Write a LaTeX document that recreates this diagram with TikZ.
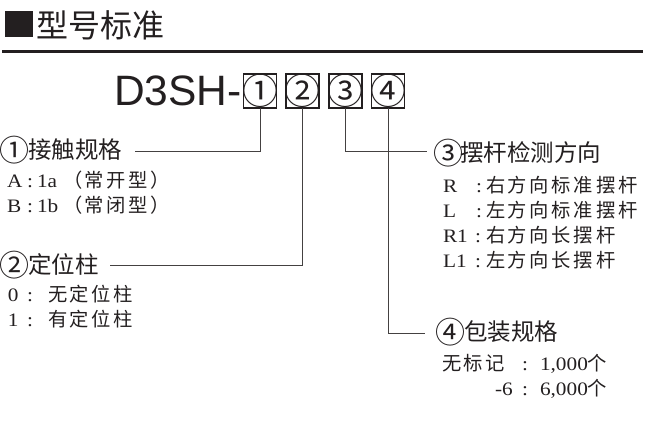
\documentclass[tikz,border=0pt]{standalone}
\usepackage{fontspec}
\setmainfont{Liberation Serif}
\newfontfamily\cjk{Noto Sans CJK SC}
\newfontfamily\bodycjk[LetterSpace=14]{Noto Sans CJK SC}
\newfontfamily\latw[FakeStretch=1.12]{Liberation Serif}
\newfontfamily\arialf{Liberation Sans}
\definecolor{ink}{HTML}{231F20}
\begin{document}
\begin{tikzpicture}[x=1pt,y=-1pt,
  every node/.style={inner sep=0pt, outer sep=0pt, text=ink},
  lat/.style={anchor=base west, font=\latw\fontsize{19}{21}\selectfont},
  cj/.style={anchor=base west, font=\bodycjk\fontsize{19.3}{21}\selectfont},
  head/.style={anchor=west, font=\cjk\fontsize{23.5}{26}\selectfont},
  headnum/.style={font=\cjk\fontsize{30}{32}\selectfont},
  digbox/.style={draw=ink, line width=1.5pt, minimum width=33pt, minimum height=34pt, font=\cjk\fontsize{36}{38}\selectfont},
  conn/.style={draw=ink!85, line width=1pt}]
\useasboundingbox (0,0) rectangle (660,427);

% title
\fill[ink] (5,11) rectangle (33,37);
\node[anchor=west, font=\cjk\fontsize{32}{34}\selectfont] (title) at (36,25) {型号标准};
\draw[ink, line width=3pt] (2,51.5) -- (643,51.5);

% model code
\node[anchor=base west, font=\arialf\fontsize{42.5}{44}\selectfont] (code) at (114,106) {D3SH-};
\node[digbox] (b1) at (260,91) {\makebox[0pt]{①}};
\node[digbox] (b2) at (302.5,91) {\makebox[0pt]{②}};
\node[digbox] (b3) at (345.5,91) {\makebox[0pt]{③}};
\node[digbox] (b4) at (388,91) {\makebox[0pt]{④}};

% connector ends
\coordinate (e1) at (135,152);
\coordinate (e2) at (110,265);
\coordinate (e3) at (427,152);
\coordinate (e4) at (425,333);
\draw[conn] (b1.south) |- (e1);
\draw[conn] (b2.south) |- (e2);
\draw[conn] (b3.south) |- (e3);
\draw[conn] (b4.south) |- (e4);

% headings
\node[headnum] (n1) at (14,150) {\makebox[0pt]{①}};
\node[head] (h1) at (28,150) {接触规格};
\node[headnum] (n2) at (14,265) {\makebox[0pt]{②}};
\node[head] (h2) at (28,265) {定位柱};
\node[headnum] (n3) at (448,153) {\makebox[0pt]{③}};
\node[head] (h3) at (460,153) {摆杆检测方向};
\node[headnum] (n4) at (450,332) {\makebox[0pt]{④}};
\node[head] (h4) at (464,332) {包装规格};

% block 1
\node[lat] (a1) at (7,188) {A};
\node[lat] (a2) at (27,188) {:};
\node[lat] (a3) at (37,188) {1a};
\node[cj]  (a4) at (63,188) {（常开型）};
\node[lat] (bb1) at (7,213) {B};
\node[lat] (bb2) at (27,213) {:};
\node[lat] (bb3) at (37,213) {1b};
\node[cj]  (bb4) at (63,213) {（常闭型）};

% block 2
\node[lat] (z1) at (8,301) {0};
\node[lat] (z2) at (27,301) {:};
\node[cj]  (z3) at (48,301) {无定位柱};
\node[lat] (o1) at (8,326) {1};
\node[lat] (o2) at (27,326) {:};
\node[cj]  (o3) at (48,326) {有定位柱};

% block 3
\node[lat] (r1) at (443,193) {R};
\node[lat] (r2) at (476,193) {:};
\node[cj]  (r3) at (486,193) {右方向标准摆杆};
\node[lat] (l1) at (443,218) {L};
\node[lat] (l2) at (476,218) {:};
\node[cj]  (l3) at (486,218) {左方向标准摆杆};
\node[lat] (rr1) at (443,243) {R1};
\node[lat] (rr2) at (475,243) {:};
\node[cj]  (rr3) at (486,243) {右方向长摆杆};
\node[lat] (ll1) at (443,268) {L1};
\node[lat] (ll2) at (475,268) {:};
\node[cj]  (ll3) at (486,268) {左方向长摆杆};

% block 4
\node[cj]  (p1) at (442,370) {无标记};
\node[lat] (p2) at (522,370) {:};
\node[lat] (p3) at (540,370) {1,000{\bodycjk\fontsize{19.3}{21}\selectfont 个}};
\node[lat] (q1) at (495,395) {-6};
\node[lat] (q2) at (522,395) {:};
\node[lat] (q3) at (540,395) {6,000{\bodycjk\fontsize{19.3}{21}\selectfont 个}};
\end{tikzpicture}
\end{document}
